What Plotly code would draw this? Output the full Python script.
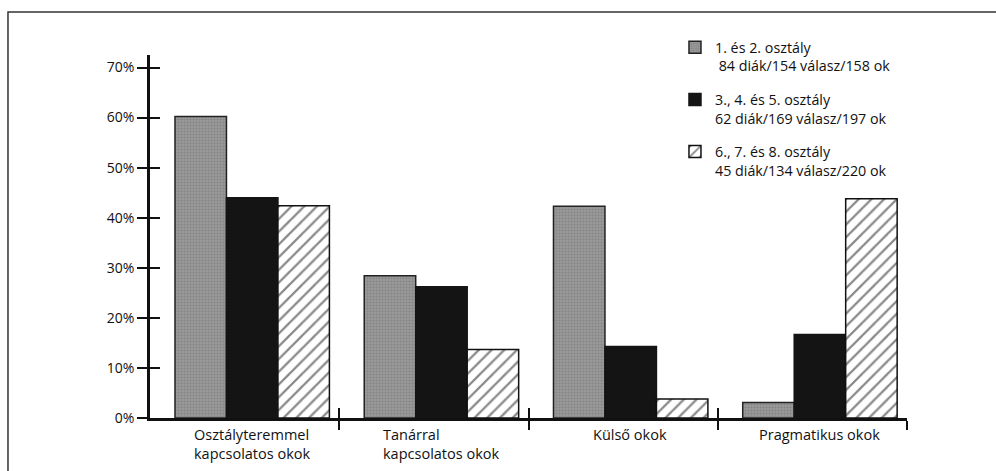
import plotly.graph_objects as go

categories = ["Osztályteremmel<br>kapcsolatos okok", "Tanárral<br>kapcsolatos okok", "Külső okok", "Pragmatikus okok"]
series_names = [
    "1. és 2. osztály<br>\u00a084 diák/154 válasz/158 ok",
    "3., 4. és 5. osztály<br>62 diák/169 válasz/197 ok",
    "6., 7. és 8. osztály<br>45 diák/134 válasz/220 ok",
]
grade12 = [60.2, 28.4, 42.3, 3.1]
grade345 = [44.0, 26.2, 14.3, 16.7]
grade678 = [42.4, 13.7, 3.8, 43.8]
y_ticks = [0, 10, 20, 30, 40, 50, 60, 70]
y_tick_labels = ["0%", "10%", "20%", "30%", "40%", "50%", "60%", "70%"]
boundaries = [0.5, 1.5, 2.5, 3.5]

FONT = "Open Sans"
BAR_W = 0.272
GROUP_SHIFT = 0.04
fig = go.Figure()
x_idx = list(range(len(categories)))

def off(k):
    return GROUP_SHIFT - 1.5 * BAR_W + k * BAR_W

fig.add_trace(go.Bar(
    x=x_idx, y=grade12, name=series_names[0], legendgroup="a",
    width=BAR_W, offset=off(0),
    marker=dict(color="#8e8e8e", line=dict(color="#222", width=1.5),
                pattern=dict(shape=".", fgcolor="#6e6e6e", bgcolor="#9a9a9a", size=3, solidity=0.4)),
))
fig.add_trace(go.Bar(
    x=x_idx, y=grade345, name=series_names[1], legendgroup="b",
    width=BAR_W, offset=off(1),
    marker=dict(color="#141414", line=dict(color="#141414", width=1.5)),
))
fig.add_trace(go.Bar(
    x=x_idx, y=grade678, name=series_names[2], legendgroup="c",
    width=BAR_W, offset=off(2),
    marker=dict(color="white", line=dict(color="#111", width=1.5),
                pattern=dict(shape="/", fgcolor="#111", bgcolor="white", size=9, solidity=0.25)),
))
# invisible helper trace so the overlaying axes (inner tick halves) are drawn
fig.add_trace(go.Scatter(x=[None], y=[None], xaxis="x2", yaxis="y2", showlegend=False,
                         hoverinfo="skip", mode="markers"))

for i, c in enumerate(categories):
    fig.add_annotation(x=i, y=0, xref="x", yref="paper", yanchor="top", yshift=-5, xshift=7,
                       text=c, showarrow=False, align="left",
                       font=dict(family=FONT, size=14.5, color="#111"))

fig.update_layout(
    width=996, height=471,
    margin=dict(l=150, r=89, t=55, b=53),
    paper_bgcolor="white", plot_bgcolor="white",
    barmode="group", bargap=0.18, bargroupgap=0,
    font=dict(family=FONT, size=13, color="#111"),
    legend=dict(x=0.6935, y=1.065, xanchor="left", yanchor="top",
                font=dict(family=FONT, size=14.3, color="#111"),
                tracegroupgap=12, valign="top", bgcolor="rgba(0,0,0,0)"),
    xaxis=dict(range=[-0.5, 3.5], tickvals=boundaries, showticklabels=False,
               ticks="outside", ticklen=9, tickwidth=2, tickcolor="#111", showgrid=False,
               showline=True, linecolor="#111", linewidth=2.5, zeroline=False),
    xaxis2=dict(overlaying="x", anchor="y", range=[-0.5, 3.5], tickvals=boundaries, showticklabels=False,
                ticks="inside", ticklen=10, tickwidth=2, tickcolor="#111",
                showgrid=False, showline=False, zeroline=False),
    yaxis=dict(range=[0, 72.5], tickvals=y_ticks, ticktext=y_tick_labels,
               ticks="outside", ticklen=10, tickwidth=2, tickcolor="#111",
               showgrid=False, showline=True, linecolor="#111", linewidth=2.5, zeroline=False,
               tickfont=dict(family=FONT, size=14, color="#111")),
    yaxis2=dict(overlaying="y", anchor="x", side="left", range=[0, 72.5], tickvals=y_ticks,
                showticklabels=False, ticks="inside", ticklen=10, tickwidth=2, tickcolor="#111",
                showgrid=False, showline=False, zeroline=False),
    shapes=[dict(type="rect", xref="paper", yref="paper", x0=-0.1876, x1=1.3, y0=-0.3, y1=1.1185,
                 line=dict(color="#333", width=1.5), fillcolor="rgba(0,0,0,0)", layer="below")],
)

fig.write_html("out.html", config={"displayModeBar": False})

with open("out.html", "r", encoding="utf-8") as f:
    html = f.read()
html = html.replace("<head>", "<head><style>html,body{margin:0;padding:0;overflow:hidden;}</style>", 1)
with open("out.html", "w", encoding="utf-8") as f:
    f.write(html)
